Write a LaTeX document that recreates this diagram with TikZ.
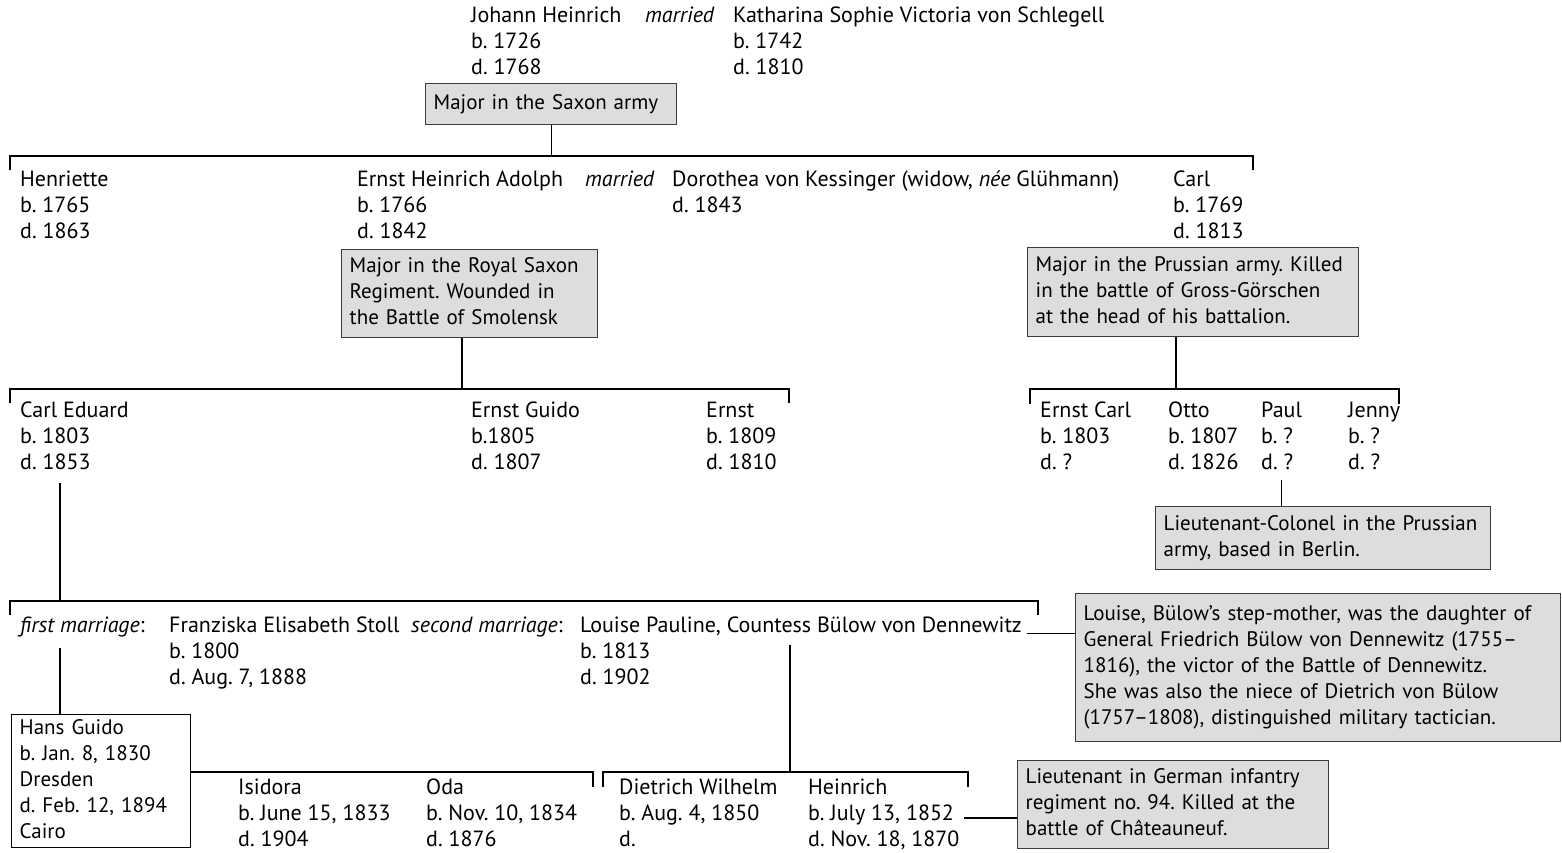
\documentclass[tikz,border=0pt]{standalone}
\usepackage{fontspec}
\setmainfont{PT Sans}
\frenchspacing
\definecolor{notegray}{RGB}{221,221,221}
\definecolor{noteline}{RGB}{60,60,60}
\begin{document}
\begin{tikzpicture}[x=1pt,y=-1pt]
\tikzstyle{every node}+=[inner sep=0pt,font=\fontsize{22}{26}\selectfont\frenchspacing]
\tikzstyle{person}=[anchor=north west,align=left,yshift=18.2pt,execute at begin node=\strut]
\tikzstyle{note}=[anchor=north west,align=left,fill=notegray,draw=noteline,line width=1.4pt,inner xsep=8pt,inner ysep=5pt,font=\fontsize{21}{26}\selectfont\frenchspacing,execute at begin node=\strut,execute at end node=\strut]
\tikzstyle{link}=[line width=1.2pt]
\useasboundingbox (0,0) rectangle (1562,852);
\node[person] (johann) at (471,22) {\strut Johann Heinrich\\b. 1726\\d. 1768};
\node[person] (married1) at (645,22) {\emph{married}};
\node[person] (katharina) at (733,22) {\strut Katharina Sophie Victoria von Schlegell\\b. 1742\\d. 1810};
\node[note,text width=235pt,inner ysep=7.5pt] (saxon) at (425,83) {Major in the Saxon army};
\coordinate (k1l) at (10,156);
\coordinate (k1r) at (1253,156);
\draw[link] ([yshift=-14pt]k1l) -- (k1l) -- (k1r) -- ([yshift=-14pt]k1r);
\draw[link] (saxon.south) -- (saxon.south |- k1l);
\node[person] (henriette) at (20,186) {\strut Henriette\\b. 1765\\d. 1863};
\node[person] (ernstHA) at (357,186) {\strut Ernst Heinrich Adolph\\b. 1766\\d. 1842};
\node[person] (married2) at (585,186) {\emph{married}};
\node[person] (dorothea) at (672,186) {\strut Dorothea von Kessinger (widow, \emph{née} Glühmann)\\d. 1843};
\node[person] (carl) at (1173,186) {\strut Carl\\b. 1769\\d. 1813};
\node[note,text width=240pt] (smolensk) at (341,249) {Major in the Royal Saxon\\Regiment. Wounded in\\the Battle of Smolensk};
\node[note,text width=315pt,inner ysep=5.5pt] (gorschen) at (1027,247) {Major in the Prussian army. Killed\\in the battle of Gross-Görschen\\at the head of his battalion.};
\coordinate (k2l) at (10,389);
\coordinate (k2r) at (789,389);
\draw[link] ([yshift=-14pt]k2l) -- (k2l) -- (k2r) -- ([yshift=-14pt]k2r);
\draw[link] ([xshift=121pt]smolensk.south west) coordinate (s2) -- (s2 |- k2l);
\coordinate (k3l) at (1030,389);
\coordinate (k3r) at (1399,389);
\draw[link] ([yshift=-15pt]k3l) -- (k3l) -- (k3r) -- ([yshift=-15pt]k3r);
\draw[link] ([xshift=149pt]gorschen.south west) coordinate (s3) -- (s3 |- k3l);
\node[person] (carlEd) at (20,417) {\strut Carl Eduard\\b. 1803\\d. 1853};
\node[person] (ernstGuido) at (471,417) {\strut Ernst Guido\\b.1805\\d. 1807};
\node[person] (ernst) at (706,417) {\strut Ernst\\b. 1809\\d. 1810};
\node[person] (ernstCarl) at (1040,417) {\strut Ernst Carl\\b. 1803\\d. ?};
\node[person] (otto) at (1168,417) {\strut Otto\\b. 1807\\d. 1826};
\node[person] (paul) at (1261,417) {\strut Paul\\b. ?\\d. ?};
\node[person] (jenny) at (1348,417) {\strut Jenny\\b. ?\\d. ?};
\node[note,text width=319pt,inner ysep=5.5pt] (berlin) at (1155,506) {Lieutenant-Colonel in the Prussian\\army, based in Berlin.};
\draw[link] ([yshift=-3pt]paul.south) coordinate (s8) -- (s8 |- berlin.north);
\coordinate (k4l) at (10,601);
\coordinate (k4r) at (1038,601);
\draw[link] ([yshift=-14pt]k4l) -- (k4l) -- (k4r) -- ([yshift=-14pt]k4r);
\draw[link] ([xshift=40pt,yshift=-6pt]carlEd.south west) coordinate (s4) -- (s4 |- k4l);
\node[person] (firstm) at (20,632) {\emph{first marriage}:};
\node[person] (franziska) at (169,632) {\strut Franziska Elisabeth Stoll\\b. 1800\\d. Aug. 7, 1888};
\node[person] (secondm) at (411,632) {\emph{second marriage}:};
\node[person] (louise) at (580,632) {\strut Louise Pauline, Countess Bülow von Dennewitz\\b. 1813\\d. 1902};
\node[note,text width=469pt,inner ysep=9pt] (dennewitz) at (1075,593) {Louise, Bülow’s step-mother, was the daughter of\\General Friedrich Bülow von Dennewitz (1755–\\1816), the victor of the Battle of Dennewitz.\\She was also the niece of Dietrich von Bülow\\(1757–1808), distinguished military tactician.};
\draw[link] ([xshift=5pt,yshift=-20pt]louise.north east) coordinate (s5) -- (s5 -| dennewitz.west);
\node[note,fill=white,draw=black,text width=163pt,inner ysep=1.5pt] (hans) at (11,714) {Hans Guido\\b. Jan. 8, 1830\\Dresden\\d. Feb. 12, 1894\\Cairo};
\draw[link] ([xshift=40pt,yshift=-8pt]firstm.south west) coordinate (s6) -- (s6 |- hans.north);
\coordinate (k5r) at (593,772);
\draw[link] (hans.east |- k5r) -- (k5r) -- ([yshift=-15pt]k5r);
\coordinate (k6l) at (603,772);
\coordinate (k6r) at (968,772);
\draw[link] ([yshift=-15pt]k6l) -- (k6l) -- (k6r) -- ([yshift=-15pt]k6r);
\draw[link] ([xshift=210pt,yshift=-31pt]louise.north west) coordinate (s7) -- (s7 |- k6l);
\node[person] (isidora) at (238,794) {\strut Isidora\\b. June 15, 1833\\d. 1904};
\node[person] (oda) at (426,794) {\strut Oda\\b. Nov. 10, 1834\\d. 1876};
\node[person] (dietrich) at (619,794) {\strut Dietrich Wilhelm\\b. Aug. 4, 1850\\d.};
\node[person] (heinrich) at (808,794) {\strut Heinrich\\b. July 13, 1852\\d. Nov. 18, 1870};
\node[note,text width=295pt] (chateau) at (1017,760) {Lieutenant in German infantry\\regiment no. 94. Killed at the\\battle of Châteauneuf.};
\draw[link] ([xshift=4pt,yshift=-3pt]heinrich.east) coordinate (s9) -- (s9 -| chateau.west);
\end{tikzpicture}
\end{document}
